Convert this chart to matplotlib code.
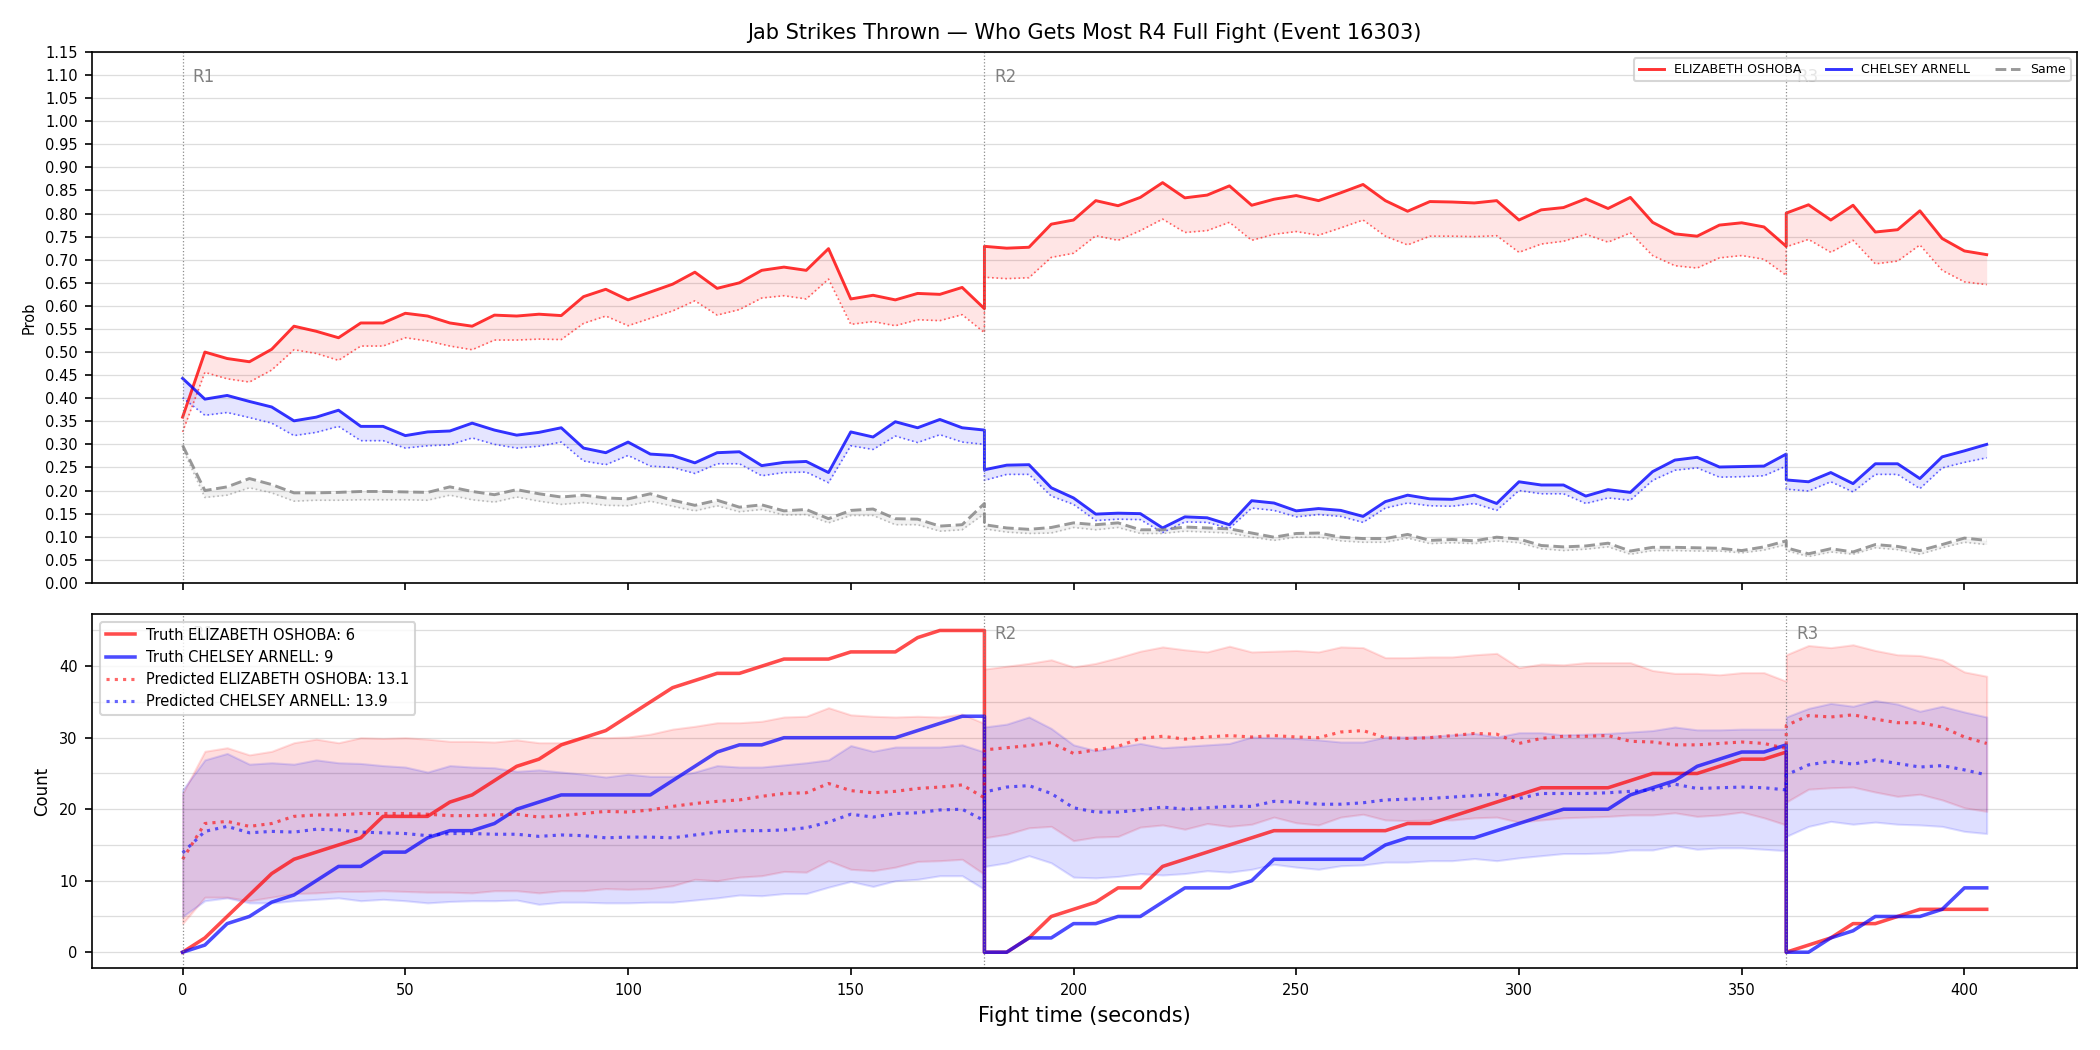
import matplotlib
matplotlib.use('Agg')
import matplotlib.pyplot as plt
import matplotlib.transforms as mtransforms
from matplotlib.ticker import MultipleLocator
import numpy as np

# time axis: every 5 s, rounds restart at 180 and 360 (the round edge is repeated)
r1_t = list(range(0, 181, 5))
r2_t = list(range(180, 361, 5))
r3_t = list(range(360, 406, 5))
time = r1_t + r2_t + r3_t

round_starts = [0, 180, 360]
round_names = ['R1', 'R2', 'R3']

# ---- top panel: probability of who throws the most ----
prob_red = [0.359, 0.500, 0.486, 0.479, 0.506, 0.556, 0.545, 0.531, 0.563, 0.563,
            0.584, 0.578, 0.563, 0.556, 0.580, 0.578, 0.582, 0.579, 0.620, 0.636,
            0.613, 0.630, 0.647, 0.673, 0.638, 0.650, 0.677, 0.684, 0.677, 0.724,
            0.615, 0.623, 0.613, 0.627, 0.625, 0.640, 0.594,
            0.729, 0.725, 0.727, 0.777, 0.786, 0.828, 0.817, 0.835, 0.867, 0.834,
            0.840, 0.860, 0.818, 0.831, 0.839, 0.828, 0.845, 0.863, 0.828, 0.805,
            0.826, 0.825, 0.823, 0.828, 0.786, 0.808, 0.813, 0.832, 0.811, 0.835,
            0.781, 0.756, 0.751, 0.775, 0.780, 0.771, 0.729,
            0.801, 0.819, 0.786, 0.818, 0.760, 0.765, 0.806, 0.746, 0.719, 0.711]
prob_red_lo = [0.327, 0.456, 0.442, 0.435, 0.461, 0.505, 0.497, 0.482, 0.513, 0.513,
               0.531, 0.524, 0.513, 0.505, 0.526, 0.526, 0.528, 0.527, 0.562, 0.578,
               0.557, 0.573, 0.589, 0.611, 0.580, 0.592, 0.617, 0.622, 0.615, 0.658,
               0.560, 0.566, 0.557, 0.570, 0.568, 0.581, 0.542,
               0.662, 0.659, 0.661, 0.705, 0.714, 0.752, 0.742, 0.763, 0.788, 0.759,
               0.763, 0.781, 0.742, 0.755, 0.761, 0.753, 0.769, 0.786, 0.751, 0.732,
               0.751, 0.751, 0.750, 0.752, 0.716, 0.734, 0.740, 0.755, 0.738, 0.758,
               0.709, 0.687, 0.682, 0.704, 0.709, 0.701, 0.666,
               0.728, 0.744, 0.716, 0.742, 0.691, 0.697, 0.732, 0.677, 0.652, 0.646]
prob_blue = [0.443, 0.398, 0.406, 0.393, 0.381, 0.351, 0.359, 0.374, 0.339, 0.339,
             0.319, 0.327, 0.329, 0.346, 0.331, 0.320, 0.326, 0.336, 0.292, 0.282,
             0.305, 0.279, 0.276, 0.260, 0.282, 0.284, 0.254, 0.261, 0.263, 0.239,
             0.327, 0.316, 0.349, 0.336, 0.354, 0.336, 0.331,
             0.245, 0.255, 0.256, 0.206, 0.184, 0.149, 0.151, 0.150, 0.119, 0.143,
             0.141, 0.126, 0.178, 0.173, 0.156, 0.161, 0.157, 0.144, 0.176, 0.190,
             0.182, 0.181, 0.190, 0.172, 0.219, 0.212, 0.212, 0.188, 0.202, 0.196,
             0.241, 0.266, 0.272, 0.251, 0.252, 0.253, 0.279,
             0.223, 0.219, 0.239, 0.215, 0.258, 0.258, 0.226, 0.273, 0.286, 0.300]
prob_blue_lo = [0.401, 0.363, 0.369, 0.358, 0.346, 0.319, 0.326, 0.339, 0.308, 0.308,
                0.292, 0.297, 0.299, 0.314, 0.300, 0.292, 0.296, 0.305, 0.264, 0.256,
                0.276, 0.253, 0.250, 0.237, 0.258, 0.258, 0.232, 0.239, 0.240, 0.217,
                0.297, 0.289, 0.318, 0.304, 0.321, 0.305, 0.300,
                0.222, 0.235, 0.235, 0.188, 0.170, 0.135, 0.138, 0.137, 0.109, 0.132,
                0.131, 0.118, 0.162, 0.157, 0.143, 0.148, 0.144, 0.131, 0.162, 0.173,
                0.167, 0.166, 0.172, 0.157, 0.200, 0.193, 0.193, 0.172, 0.184, 0.179,
                0.222, 0.244, 0.249, 0.229, 0.230, 0.232, 0.253,
                0.203, 0.199, 0.219, 0.197, 0.235, 0.235, 0.204, 0.249, 0.261, 0.271]
prob_same = [0.298, 0.200, 0.208, 0.226, 0.213, 0.195, 0.195, 0.196, 0.198, 0.198,
             0.197, 0.196, 0.208, 0.198, 0.191, 0.202, 0.193, 0.186, 0.190, 0.184,
             0.182, 0.193, 0.179, 0.168, 0.179, 0.164, 0.169, 0.156, 0.159, 0.139,
             0.157, 0.160, 0.139, 0.138, 0.123, 0.126, 0.172,
             0.126, 0.119, 0.116, 0.120, 0.130, 0.126, 0.130, 0.115, 0.115, 0.121,
             0.119, 0.117, 0.108, 0.099, 0.107, 0.108, 0.099, 0.096, 0.096, 0.105,
             0.092, 0.094, 0.091, 0.099, 0.095, 0.081, 0.078, 0.080, 0.086, 0.069,
             0.077, 0.077, 0.076, 0.075, 0.070, 0.078, 0.091,
             0.076, 0.063, 0.074, 0.067, 0.083, 0.079, 0.070, 0.083, 0.097, 0.092]
prob_same_lo = [0.291, 0.185, 0.190, 0.206, 0.195, 0.177, 0.179, 0.179, 0.180, 0.180,
                0.180, 0.179, 0.190, 0.180, 0.175, 0.186, 0.177, 0.170, 0.174, 0.168,
                0.167, 0.177, 0.166, 0.156, 0.167, 0.154, 0.159, 0.147, 0.148, 0.130,
                0.146, 0.146, 0.126, 0.126, 0.112, 0.115, 0.150,
                0.117, 0.110, 0.107, 0.108, 0.120, 0.115, 0.120, 0.107, 0.107, 0.112,
                0.110, 0.108, 0.099, 0.092, 0.099, 0.099, 0.091, 0.088, 0.088, 0.097,
                0.085, 0.087, 0.085, 0.091, 0.087, 0.074, 0.070, 0.073, 0.078, 0.062,
                0.070, 0.070, 0.069, 0.069, 0.065, 0.071, 0.083,
                0.070, 0.057, 0.067, 0.062, 0.076, 0.072, 0.062, 0.076, 0.088, 0.083]

# ---- bottom panel: cumulative jab counts ----
truth_red = [0, 2, 5, 8, 11, 13, 14, 15, 16, 19, 19, 19, 21, 22, 24, 26, 27, 29, 30, 31,
             33, 35, 37, 38, 39, 39, 40, 41, 41, 41, 42, 42, 42, 44, 45, 45, 45,
             0, 0, 2, 5, 6, 7, 9, 9, 12, 13, 14, 15, 16, 17, 17, 17, 17, 17, 17, 18,
             18, 19, 20, 21, 22, 23, 23, 23, 23, 24, 25, 25, 25, 26, 27, 27, 28,
             0, 1, 2, 4, 4, 5, 6, 6, 6, 6]
truth_blue = [0, 1, 4, 5, 7, 8, 10, 12, 12, 14, 14, 16, 17, 17, 18, 20, 21, 22, 22, 22,
              22, 22, 24, 26, 28, 29, 29, 30, 30, 30, 30, 30, 30, 31, 32, 33, 33,
              0, 0, 2, 2, 4, 4, 5, 5, 7, 9, 9, 9, 10, 13, 13, 13, 13, 13, 15, 16,
              16, 16, 16, 17, 18, 19, 20, 20, 20, 22, 23, 24, 26, 27, 28, 28, 29,
              0, 0, 2, 3, 5, 5, 5, 6, 9, 9]
pred_red = [13.0, 18.0, 18.3, 17.6, 18.0, 19.0, 19.2, 19.2, 19.4, 19.4,
            19.4, 19.3, 19.1, 19.1, 19.2, 19.3, 18.9, 19.1, 19.4, 19.7,
            19.6, 19.9, 20.4, 20.8, 21.1, 21.3, 21.8, 22.2, 22.3, 23.6,
            22.6, 22.3, 22.5, 22.9, 23.1, 23.4, 21.6,
            28.3, 28.6, 28.9, 29.3, 27.8, 28.3, 28.8, 29.9, 30.2, 29.8,
            30.1, 30.3, 30.1, 30.3, 30.1, 30.0, 30.8, 31.0, 30.0, 29.9,
            30.0, 30.3, 30.6, 30.5, 29.2, 29.9, 30.2, 30.2, 30.3, 29.5,
            29.4, 29.0, 29.0, 29.2, 29.4, 29.2, 28.5,
            31.7, 33.1, 32.9, 33.2, 32.6, 32.1, 32.1, 31.5, 30.1, 29.2]
pred_blue = [13.9, 16.9, 17.6, 16.7, 16.9, 16.8, 17.2, 17.1, 16.8, 16.7,
             16.6, 16.3, 16.6, 16.6, 16.5, 16.5, 16.2, 16.4, 16.3, 16.0,
             16.1, 16.1, 16.0, 16.4, 16.8, 17.0, 17.0, 17.1, 17.4, 18.2,
             19.3, 18.9, 19.4, 19.5, 19.9, 20.0, 18.4,
             22.4, 23.1, 23.3, 22.2, 20.2, 19.6, 19.6, 19.9, 20.3, 20.0,
             20.2, 20.4, 20.4, 21.1, 21.0, 20.7, 20.7, 20.9, 21.3, 21.4,
             21.5, 21.7, 21.9, 22.1, 21.5, 22.2, 22.2, 22.2, 22.3, 22.5,
             22.7, 23.5, 22.9, 23.0, 23.1, 23.0, 22.7,
             24.8, 26.2, 26.7, 26.3, 26.9, 26.4, 25.9, 26.1, 25.5, 24.8]
red_hi = [22.2, 28.1, 28.6, 27.6, 28.1, 29.3, 29.8, 29.3, 30.0, 29.9,
          30.0, 29.8, 29.5, 29.5, 29.4, 29.7, 29.3, 29.3, 30.1, 30.0,
          30.1, 30.5, 31.2, 31.6, 32.1, 32.1, 32.3, 32.9, 33.0, 34.2,
          33.2, 33.0, 32.9, 33.0, 32.9, 33.3, 32.0,
          39.6, 40.0, 40.4, 40.9, 39.9, 40.4, 41.2, 42.1, 42.7, 42.3,
          42.0, 42.8, 42.0, 42.1, 42.2, 42.0, 42.7, 42.6, 41.2, 41.2,
          41.3, 41.3, 41.6, 41.8, 39.8, 40.3, 40.2, 40.5, 40.5, 40.5,
          39.4, 39.0, 39.0, 38.8, 39.1, 39.1, 37.9,
          41.6, 42.9, 42.6, 43.0, 42.2, 41.6, 41.5, 40.9, 39.2, 38.6]
red_lo = [4.0, 7.7, 7.7, 7.2, 7.7, 8.2, 8.3, 8.5, 8.5, 8.6,
          8.5, 8.4, 8.4, 8.3, 8.6, 8.6, 8.3, 8.6, 8.6, 8.9,
          8.8, 8.9, 9.3, 10.2, 10.0, 10.5, 10.7, 11.3, 11.2, 12.8,
          11.6, 11.4, 11.9, 12.7, 12.8, 13.0, 10.9,
          16.0, 16.5, 17.4, 17.6, 15.6, 16.1, 16.2, 17.5, 17.8, 17.2,
          18.0, 17.6, 17.9, 18.9, 18.1, 17.8, 18.9, 19.3, 18.5, 18.4,
          18.5, 18.5, 18.8, 18.9, 18.2, 18.5, 18.8, 18.9, 19.0, 19.2,
          19.2, 19.5, 19.0, 19.2, 19.6, 18.8, 17.8,
          21.0, 22.8, 23.0, 23.1, 22.4, 21.8, 22.1, 21.3, 20.2, 19.7]
blue_hi = [22.7, 26.9, 27.8, 26.3, 26.5, 26.3, 26.9, 26.5, 26.4, 26.1,
           25.9, 25.2, 26.1, 25.9, 25.8, 25.3, 25.5, 25.2, 24.9, 24.5,
           24.9, 24.6, 24.6, 25.2, 26.1, 25.9, 25.9, 26.2, 26.5, 26.9,
           28.9, 28.1, 28.7, 28.7, 28.7, 29.0, 28.0,
           31.5, 31.9, 32.9, 31.3, 29.0, 28.2, 28.7, 29.2, 28.6, 28.8,
           29.0, 29.2, 30.1, 30.0, 29.9, 29.7, 29.4, 29.4, 30.1, 30.1,
           30.2, 30.4, 30.6, 30.1, 30.7, 30.7, 30.4, 30.5, 30.6, 30.8,
           31.0, 31.5, 31.1, 31.1, 31.2, 31.2, 31.2,
           32.9, 34.1, 34.8, 34.4, 35.2, 34.7, 33.7, 34.4, 33.6, 32.9]
blue_lo = [5.0, 7.2, 7.6, 6.9, 6.9, 7.2, 7.4, 7.6, 7.2, 7.4,
           7.2, 6.9, 7.1, 7.2, 7.2, 7.3, 6.7, 7.0, 7.0, 6.9,
           6.9, 7.0, 7.0, 7.3, 7.6, 8.0, 7.9, 8.2, 8.2, 9.1,
           9.9, 9.2, 10.0, 10.2, 10.7, 10.7, 8.8,
           12.0, 12.5, 13.5, 12.5, 10.5, 10.4, 10.6, 11.0, 10.8, 11.0,
           11.4, 11.2, 11.6, 12.3, 11.9, 11.6, 12.1, 12.2, 12.6, 12.6,
           12.8, 12.8, 13.1, 12.8, 13.2, 13.5, 13.8, 13.8, 13.9, 14.3,
           14.3, 14.9, 14.4, 14.6, 14.6, 14.4, 14.2,
           16.2, 17.6, 18.3, 17.9, 18.2, 17.9, 17.8, 17.6, 16.9, 16.6]

fighter_red = 'ELIZABETH OSHOBA'
fighter_blue = 'CHELSEY ARNELL'


fig, (ax1, ax2) = plt.subplots(2, 1, sharex=True, figsize=(14, 7),
                               gridspec_kw={'height_ratios': [3, 2]})
fig.subplots_adjust(left=0.044, right=0.989, top=0.9505, bottom=0.0778, hspace=0.0712)

# Top: probabilities
ax1.plot(time, prob_red, color='red', lw=1.4, alpha=0.8, label=fighter_red)
ax1.plot(time, prob_red_lo, color='red', lw=0.8, ls=':', alpha=0.6)
ax1.fill_between(time, prob_red_lo, prob_red, color='red', alpha=0.1, lw=0)
ax1.plot(time, prob_blue, color='blue', lw=1.4, alpha=0.8, label=fighter_blue)
ax1.plot(time, prob_blue_lo, color='blue', lw=0.8, ls=':', alpha=0.6)
ax1.fill_between(time, prob_blue_lo, prob_blue, color='blue', alpha=0.1, lw=0)
ax1.plot(time, prob_same, color='gray', lw=1.4, ls='--', alpha=0.8, label='Same')
ax1.plot(time, prob_same_lo, color='gray', lw=0.8, ls=':', alpha=0.5)
ax1.fill_between(time, prob_same_lo, prob_same, color='gray', alpha=0.1, lw=0)

ax1.set_ylim(0, 1.15)
ax1.set_yticks(np.arange(0, 1.151, 0.05))
ax1.set_ylabel('Prob', fontsize=7)
ax1.grid(axis='y', color='#dddddd', lw=0.6)
ax1.set_axisbelow(True)
ax1.set_title('Jab Strikes Thrown — Who Gets Most R4 Full Fight (Event 16303)', fontsize=10)

# Bottom: counts
ax2.fill_between(time, red_lo, red_hi, color='red', alpha=0.13)
ax2.fill_between(time, blue_lo, blue_hi, color='blue', alpha=0.13)
ax2.plot(time, truth_red, color='red', lw=1.7, alpha=0.7, label=f'Truth {fighter_red}: 6')
ax2.plot(time, truth_blue, color='blue', lw=1.7, alpha=0.7, label=f'Truth {fighter_blue}: 9')
ax2.plot(time, pred_red, color='red', lw=1.5, ls=':', alpha=0.6, label=f'Predicted {fighter_red}: 13.1')
ax2.plot(time, pred_blue, color='blue', lw=1.5, ls=':', alpha=0.6, label=f'Predicted {fighter_blue}: 13.9')

ax2.set_ylabel('Count', fontsize=8)
ax2.set_xlabel('Fight time (seconds)', fontsize=10)
ax2.yaxis.set_minor_locator(MultipleLocator(5))
ax2.tick_params(axis='y', which='minor', length=0)
ax2.grid(axis='y', which='both', color='#dddddd', lw=0.6)
ax2.set_axisbelow(True)

for ax in (ax1, ax2):
    trans = mtransforms.blended_transform_factory(ax.transData, ax.transAxes)
    for x, name in zip(round_starts, round_names):
        ax.axvline(x, color='gray', ls=':', lw=0.6, alpha=0.9)
        ax.text(x + 2.2, 0.97, name, transform=trans, color='gray', fontsize=8, va='top')
    ax.tick_params(labelsize=7)

ax1.legend(loc='upper right', ncol=3, fontsize=6)
ax2.legend(loc='upper left', fontsize=7)

fig.savefig('out.png', dpi=150)
